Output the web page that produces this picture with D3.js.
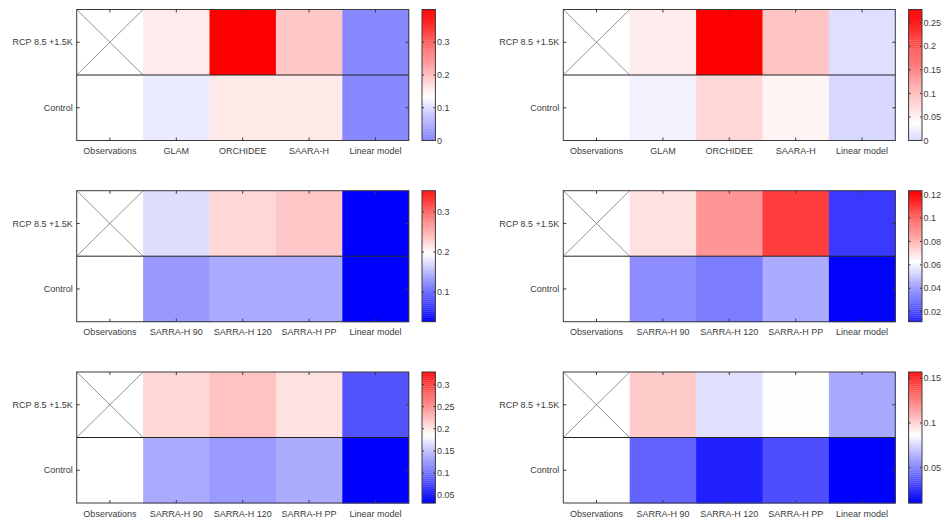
<!DOCTYPE html>
<html>
<head>
<meta charset="utf-8">
<script src="https://cdn.jsdelivr.net/npm/d3@7"></script>
<style>
  body { margin: 0; background: #fff; }
  svg text { font-family: "Liberation Sans", Arial, sans-serif; font-size: 9px; fill: #3c3c3c; }
</style>
</head>
<body>
<svg id="chart" width="942" height="520"></svg>
<script>
// categories
const rows = ['RCP 8.5 +1.5K', 'Control'];
const modelsTop = ['Observations', 'GLAM', 'ORCHIDEE', 'SAARA-H', 'Linear model'];
const modelsSarra = ['Observations', 'SARRA-H 90', 'SARRA-H 120', 'SARRA-H PP', 'Linear model'];

// values read from the colours (null = no observation, crossed cell)
const p1Rcp = [null, 0.155, 0.40, 0.191, 0.010];
const p1Ctrl = [0.134, 0.113, 0.158, 0.156, 0.010];
const p2Rcp = [null, 0.055, 0.278, 0.094, 0.008];
const p2Ctrl = [0.038, 0.026, 0.076, 0.048, 0.0];
const p3Rcp = [null, 0.176, 0.225, 0.235, 0.0265];
const p3Ctrl = [0.198, 0.129, 0.141, 0.141, 0.0265];
const p4Rcp = [null, 0.070, 0.088, 0.109, 0.016];
const p4Ctrl = [0.063, 0.036, 0.032, 0.043, 0.003];
const p5Rcp = [null, 0.210, 0.222, 0.204, 0.083];
const p5Ctrl = [0.186, 0.135, 0.126, 0.136, 0.0325];
const p6Rcp = [null, 0.103, 0.078, 0.0872, 0.061];
const p6Ctrl = [0.087, 0.040, 0.020, 0.034, 0.0105];

// colour limits and colorbar tick labels
const p1Lim = [0, 0.40], p1Ticks = [0, 0.1, 0.2, 0.3];
const p2Lim = [0, 0.278], p2Ticks = [0, 0.05, 0.1, 0.15, 0.2, 0.25];
const p3Lim = [0.0265, 0.353], p3Ticks = [0.1, 0.2, 0.3];
const p4Lim = [0.0114, 0.1234], p4Ticks = [0.02, 0.04, 0.06, 0.08, 0.1, 0.12];
const p5Lim = [0.0325, 0.328], p5Ticks = [0.05, 0.1, 0.15, 0.2, 0.25, 0.3];
const p6Lim = [0.0105, 0.157], p6Ticks = [0.05, 0.1, 0.15];

const panels = [
  { cats: modelsTop, vals: [p1Rcp, p1Ctrl], lim: p1Lim, ticks: p1Ticks, col: 0, row: 0 },
  { cats: modelsTop, vals: [p2Rcp, p2Ctrl], lim: p2Lim, ticks: p2Ticks, col: 1, row: 0 },
  { cats: modelsSarra, vals: [p3Rcp, p3Ctrl], lim: p3Lim, ticks: p3Ticks, col: 0, row: 1 },
  { cats: modelsSarra, vals: [p4Rcp, p4Ctrl], lim: p4Lim, ticks: p4Ticks, col: 1, row: 1 },
  { cats: modelsSarra, vals: [p5Rcp, p5Ctrl], lim: p5Lim, ticks: p5Ticks, col: 0, row: 2 },
  { cats: modelsSarra, vals: [p6Rcp, p6Ctrl], lim: p6Lim, ticks: p6Ticks, col: 1, row: 2 },
];

const colLeft = [76.7, 563.3];
const rowTop = [9.5, 190.7, 372];
const axW = 332, axH = 131;
const cbGap = 13.3, cbW = 13.4;
const boxColor = '#3a3a3a';

const svg = d3.select('#chart');

panels.forEach(function (p) {
  const x0 = colLeft[p.col], y0 = rowTop[p.row];
  const g = svg.append('g').attr('transform', 'translate(' + x0 + ',' + y0 + ')');

  const x = d3.scaleBand().domain(p.cats).range([0, axW]);
  const y = d3.scaleBand().domain(rows).range([0, axH]);

  // white at the observed control value, symmetric spread
  const w = p.vals[1][0];
  const d = Math.max(p.lim[1] - w, w - p.lim[0]);
  const color = d3.scaleLinear()
    .domain([w - d, w, w + d])
    .range(['#0000ff', '#ffffff', '#ff0000'])
    .interpolate(d3.interpolateRgb)
    .clamp(true);

  const cells = [];
  p.vals.forEach(function (arr, ri) {
    arr.forEach(function (v, ci) {
      cells.push({ row: rows[ri], cat: p.cats[ci], v: v });
    });
  });

  g.selectAll('rect.cell')
    .data(cells)
    .enter().append('rect')
    .attr('class', 'cell')
    .attr('x', c => x(c.cat))
    .attr('y', c => y(c.row))
    .attr('width', x.bandwidth() + 0.5)
    .attr('height', y.bandwidth() + 0.5)
    .attr('fill', c => c.v == null ? '#ffffff' : color(c.v));

  // cross over the cells without data
  const empty = cells.filter(c => c.v == null);
  empty.forEach(function (c) {
    const cx = x(c.cat), cy = y(c.row);
    g.append('line').attr('x1', cx).attr('y1', cy)
      .attr('x2', cx + x.bandwidth()).attr('y2', cy + y.bandwidth())
      .attr('stroke', '#777').attr('stroke-width', 0.8);
    g.append('line').attr('x1', cx).attr('y1', cy + y.bandwidth())
      .attr('x2', cx + x.bandwidth()).attr('y2', cy)
      .attr('stroke', '#777').attr('stroke-width', 0.8);
  });

  // line between the two rows
  g.append('line')
    .attr('x1', 0).attr('x2', axW)
    .attr('y1', y(rows[1])).attr('y2', y(rows[1]))
    .attr('stroke', '#222').attr('stroke-width', 1);

  // inward ticks on all four sides
  const tk = 3;
  p.cats.forEach(function (c) {
    const cx = x(c) + x.bandwidth() / 2;
    g.append('line').attr('x1', cx).attr('x2', cx).attr('y1', 0).attr('y2', tk).attr('stroke', boxColor);
    g.append('line').attr('x1', cx).attr('x2', cx).attr('y1', axH).attr('y2', axH - tk).attr('stroke', boxColor);
  });
  rows.forEach(function (r) {
    const cy = y(r) + y.bandwidth() / 2;
    g.append('line').attr('x1', 0).attr('x2', tk).attr('y1', cy).attr('y2', cy).attr('stroke', boxColor);
    g.append('line').attr('x1', axW).attr('x2', axW - tk).attr('y1', cy).attr('y2', cy).attr('stroke', boxColor);
  });

  g.append('rect')
    .attr('width', axW).attr('height', axH)
    .attr('fill', 'none').attr('stroke', boxColor).attr('stroke-width', 1);

  // tick labels
  g.selectAll('text.xl')
    .data(p.cats)
    .enter().append('text')
    .attr('class', 'xl')
    .attr('x', c => x(c) + x.bandwidth() / 2)
    .attr('y', axH + 13.5)
    .attr('text-anchor', 'middle')
    .text(c => c);

  g.selectAll('text.yl')
    .data(rows)
    .enter().append('text')
    .attr('class', 'yl')
    .attr('x', -4)
    .attr('y', r => y(r) + y.bandwidth() / 2)
    .attr('dy', '0.35em')
    .attr('text-anchor', 'end')
    .text(r => r);

  // colorbar
  const cb = g.append('g').attr('transform', 'translate(' + (axW + cbGap) + ',0)');
  const cy = d3.scaleLinear().domain(p.lim).range([axH, 0]);
  const nSteps = 64;
  const steps = d3.range(nSteps).map(i => p.lim[0] + (p.lim[1] - p.lim[0]) * (i + 0.5) / nSteps);
  const stepH = axH / nSteps;
  cb.selectAll('rect.step')
    .data(steps)
    .enter().append('rect')
    .attr('class', 'step')
    .attr('x', 0)
    .attr('y', v => cy(v) - stepH / 2)
    .attr('width', cbW)
    .attr('height', stepH + 0.3)
    .attr('fill', v => color(v));

  const fmt = d3.format('~g');
  p.ticks.forEach(function (t) {
    const ty = cy(t);
    cb.append('line').attr('x1', 0).attr('x2', 2).attr('y1', ty).attr('y2', ty).attr('stroke', boxColor);
    cb.append('line').attr('x1', cbW).attr('x2', cbW - 2).attr('y1', ty).attr('y2', ty).attr('stroke', boxColor);
    cb.append('text')
      .attr('x', cbW + 1.5)
      .attr('y', ty)
      .attr('dy', '0.35em')
      .text(fmt(t));
  });

  cb.append('rect')
    .attr('width', cbW).attr('height', axH)
    .attr('fill', 'none').attr('stroke', boxColor).attr('stroke-width', 1);
});
</script>
</body>
</html>
